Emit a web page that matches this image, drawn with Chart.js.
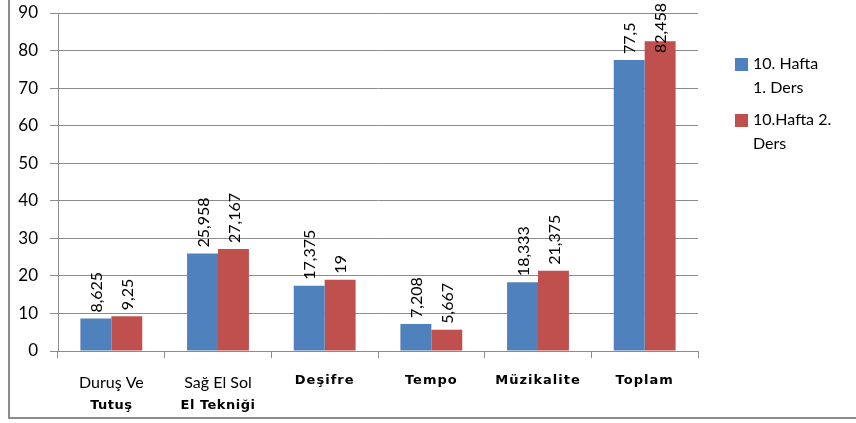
<!DOCTYPE html>
<html>
<head>
<meta charset="utf-8">
<script src="https://cdn.jsdelivr.net/npm/chart.js@4"></script>
<style>
  html, body { margin: 0; padding: 0; background: #fff; }
  #wrap { width: 856px; height: 423px; }
</style>
</head>
<body>
<div id="wrap"><canvas id="barChart" width="856" height="423"></canvas></div>
<script>
const categories = [['Duruş Ve', 'Tutuş'], ['Sağ El Sol', 'El Tekniği'], ['Deşifre'], ['Tempo'], ['Müzikalite'], ['Toplam']];
const seriesNames = [['10. Hafta', '1. Ders'], ['10.Hafta 2.', 'Ders']];
const hafta1 = [8.625, 25.958, 17.375, 7.208, 18.333, 77.5];
const hafta2 = [9.25, 27.167, 19, 5.667, 21.375, 82.458];
const yTicks = [0, 10, 20, 30, 40, 50, 60, 70, 80, 90];

const colors = ['#4F81BD', '#C0504D'];
const fontMain = 'Lato, "Open Sans", sans-serif';
const fontBold = '"DejaVu Sans", Verdana, sans-serif';

const fmt = v => String(v).replace('.', ',');

// box round the whole chart
const framePlugin = {
  id: 'frame',
  afterDraw(chart) {
    const ctx = chart.ctx;
    ctx.save();
    ctx.strokeStyle = '#8c8c8c';
    ctx.lineWidth = 2;
    ctx.strokeRect(9, -5, 900, 423);
    ctx.restore();
  }
};

// rotated value labels above the bars, pushed down when they would leave the canvas
const valueLabels = {
  id: 'valueLabels',
  afterDatasetsDraw(chart) {
    const ctx = chart.ctx;
    ctx.save();
    ctx.fillStyle = '#000';
    ctx.font = '16px ' + fontMain;
    ctx.textAlign = 'left';
    ctx.textBaseline = 'middle';
    chart.data.datasets.forEach((ds, i) => {
      chart.getDatasetMeta(i).data.forEach((bar, j) => {
        const txt = fmt(ds.data[j]);
        const w = ctx.measureText(txt).width;
        let start = bar.y - 6;
        if (start - w < 3) start = 3 + w;
        ctx.save();
        ctx.translate(bar.x, start);
        ctx.rotate(-Math.PI / 2);
        ctx.fillText(txt, 0, 1);
        ctx.restore();
      });
    });
    ctx.restore();
  }
};

// category labels, first two start in a plain font
const catLabels = {
  id: 'catLabels',
  afterDraw(chart) {
    const ctx = chart.ctx;
    const x = chart.scales.x;
    ctx.save();
    ctx.fillStyle = '#000';
    ctx.textAlign = 'center';
    ctx.textBaseline = 'middle';
    categories.forEach((lines, i) => {
      const cx = x.getPixelForValue(i);
      if (lines.length > 1) {
        ctx.font = '16px ' + fontMain;
        ctx.letterSpacing = '0px';
        ctx.fillText(lines[0], cx, 383);
        ctx.font = 'bold 13px ' + fontBold;
        ctx.letterSpacing = '0.5px';
        ctx.fillText(lines[1], cx, 406);
      } else {
        ctx.font = 'bold 13px ' + fontBold;
        ctx.letterSpacing = '1px';
        ctx.fillText(lines[0], cx, 381);
      }
    });
    ctx.restore();
  }
};

// legend on the right, wrapped like the original
const sideLegend = {
  id: 'sideLegend',
  afterDraw(chart) {
    const ctx = chart.ctx;
    ctx.save();
    ctx.font = '16px ' + fontMain;
    ctx.textBaseline = 'middle';
    ctx.textAlign = 'left';
    seriesNames.forEach((lines, i) => {
      const top = 64 + i * 56;
      ctx.fillStyle = colors[i];
      ctx.fillRect(735, top - 6, 13, 13);
      ctx.fillStyle = '#000';
      lines.forEach((t, k) => ctx.fillText(t, 753, top + k * 24));
    });
    ctx.restore();
  }
};

const ctx = document.getElementById('barChart').getContext('2d');
const chart = new Chart(ctx, {
  type: 'bar',
  data: {
    labels: categories.map(c => c.join(' ')),
    datasets: [
      { label: seriesNames[0].join(' '), data: hafta1, backgroundColor: colors[0] },
      { label: seriesNames[1].join(' '), data: hafta2, backgroundColor: colors[1] }
    ]
  },
  options: {
    responsive: false,
    animation: false,
    devicePixelRatio: 1,
    layout: { padding: { left: 9, right: 158, top: 13, bottom: 0 } },
    plugins: {
      legend: { display: false },
      tooltip: { enabled: false }
    },
    datasets: { bar: { categoryPercentage: 0.58, barPercentage: 1 } },
    scales: {
      x: {
        offset: true,
        grid: { offset: true, drawOnChartArea: false, drawTicks: true, tickLength: 7, color: '#8c8c8c' },
        border: { color: '#8c8c8c', width: 1 },
        ticks: { display: false },
        afterFit(scale) { scale.height = 72; }
      },
      y: {
        min: 0,
        max: 90,
        afterBuildTicks(scale) { scale.ticks = yTicks.map(v => ({ value: v })); },
        grid: { color: '#8c8c8c', tickLength: 8 },
        border: { color: '#8c8c8c', width: 1 },
        ticks: { color: '#000', font: { family: fontMain, size: 17 }, padding: 12 },
        afterFit(scale) {
          scale.width = 49;
          scale.paddingTop = 0;
          scale.paddingBottom = 0;
        }
      }
    }
  },
  plugins: [framePlugin, valueLabels, catLabels, sideLegend]
});
</script>
</body>
</html>
